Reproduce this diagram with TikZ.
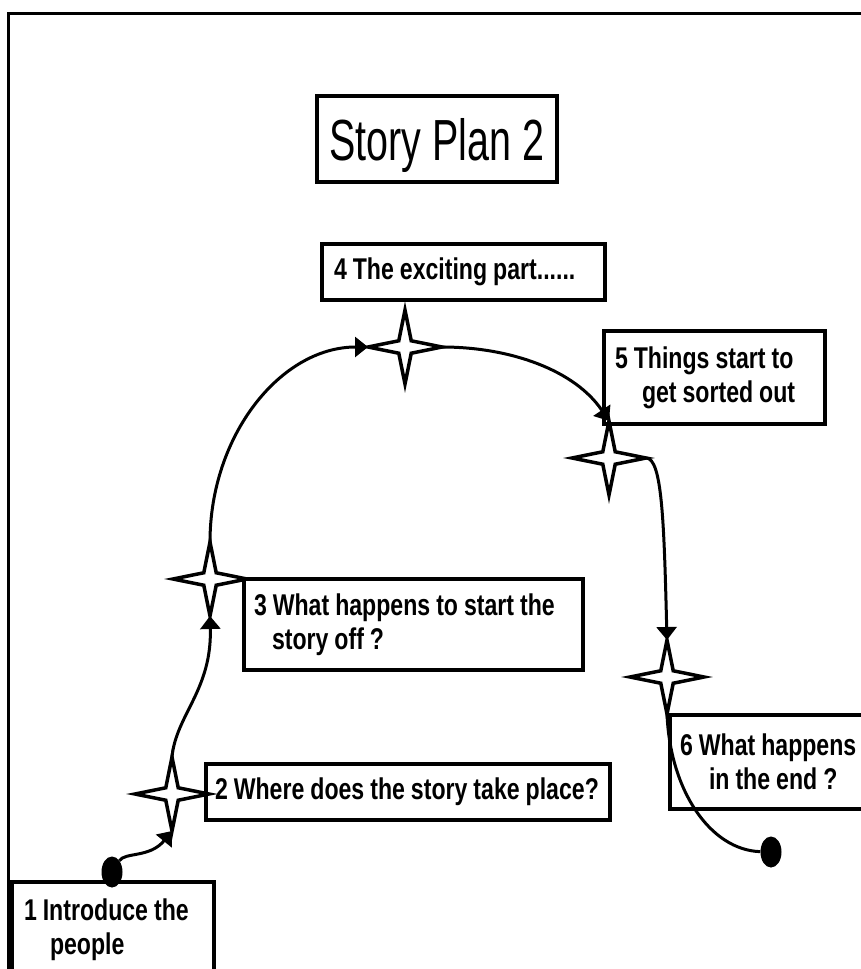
\documentclass[tikz,border=0pt]{standalone}
\usepackage{fontspec}
\setmainfont{Liberation Sans}[FakeStretch=0.77]
\newfontfamily\titlefont{Liberation Sans}[FakeStretch=0.68]
\usetikzlibrary{shapes.geometric,arrows.meta}

\begin{document}
\begin{tikzpicture}[x=1pt,y=-1pt,
  storybox/.style={draw,line width=4pt,fill=white,anchor=north west,align=left,
    inner ysep=0pt,font=\bfseries\fontsize{30}{34}\selectfont,
    execute at begin node={\spaceskip=6pt plus 1pt minus 1pt\relax}},
  sparkle/.style={star,star points=4,star point ratio=4.2,minimum size=74pt,
    inner sep=0pt,outer sep=0pt,draw,line width=3.5pt,fill=white},
  blob/.style={ellipse,fill=black,inner sep=0pt,minimum width=21pt,minimum height=31pt},
  link/.style={line width=3pt,-{Triangle[length=13pt,width=20pt]}}]
   \useasboundingbox (0,0) rectangle (861,969);
   \clip (0,0) rectangle (861,969);
   \draw[line width=3pt] (8,990) -- (8,13) -- (880,13);
   % title
   \node[draw,line width=4pt,minimum width=240pt,minimum height=86pt,inner sep=0pt,
     text height=42pt,text depth=0pt,font=\titlefont\fontsize{58}{60}\selectfont]
     (title) at (437,139) {Story Plan 2};
   % the six steps
   \node[storybox,text width=178pt,inner xsep=12pt,minimum height=96pt] (intro) at (10,880)
     {1 Introduce the\\\hspace*{26pt}people};
   \node[storybox,text width=396pt,inner xsep=4pt,minimum height=56pt] (where) at (204,762)
     {\hspace*{5pt}2 Where does the story take place?};
   \node[storybox,text width=319pt,inner xsep=10pt,minimum height=91pt] (start) at (242,577)
     {3 What happens to start the\\\hspace*{18pt}story off ?};
   \node[storybox,text width=259pt,inner xsep=12pt,minimum height=56pt] (exciting) at (320,242)
     {4 The exciting part......};
   \node[storybox,text width=199pt,inner xsep=11pt,minimum height=93pt] (sorted) at (602,329)
     {5 Things start to\\\hspace*{27pt}get sorted out};
   \node[storybox,text width=220pt,inner xsep=10pt,minimum height=94pt] (ending) at (668,713)
     {6 What happens\\\hspace*{29pt}in the end ?};
   % stars along the path
   \node[sparkle] (s2) at (172,794) {};
   \node[sparkle] (s3) at (210,579) {};
   \node[sparkle] (s4) at (405,347) {};
   \node[sparkle] (s5) at (609,458) {};
   \node[sparkle] (s6) at (667,677) {};
   \node[blob] (begin) at (112,872) {};
   \node[blob] (finish) at (771,852) {};
   % the story line
   \draw[link] (begin) .. controls (125,852) and (150,858) .. (s2.south);
   \draw[link] (s2.north) .. controls (176,715) and (212,690) .. (s3.south);
   \draw[link] (s3.north) .. controls (210,435) and (281,347) .. (s4.west);
   \draw[link] (s4.east) .. controls (510,347) and (575,370) .. (s5.north);
   \draw[link] (s5.east) .. controls (662,458) and (664,520) .. (s6.north);
   \draw[line width=3pt] (s6.south) .. controls (670,790) and (710,850) .. (finish);
\end{tikzpicture}
\end{document}
